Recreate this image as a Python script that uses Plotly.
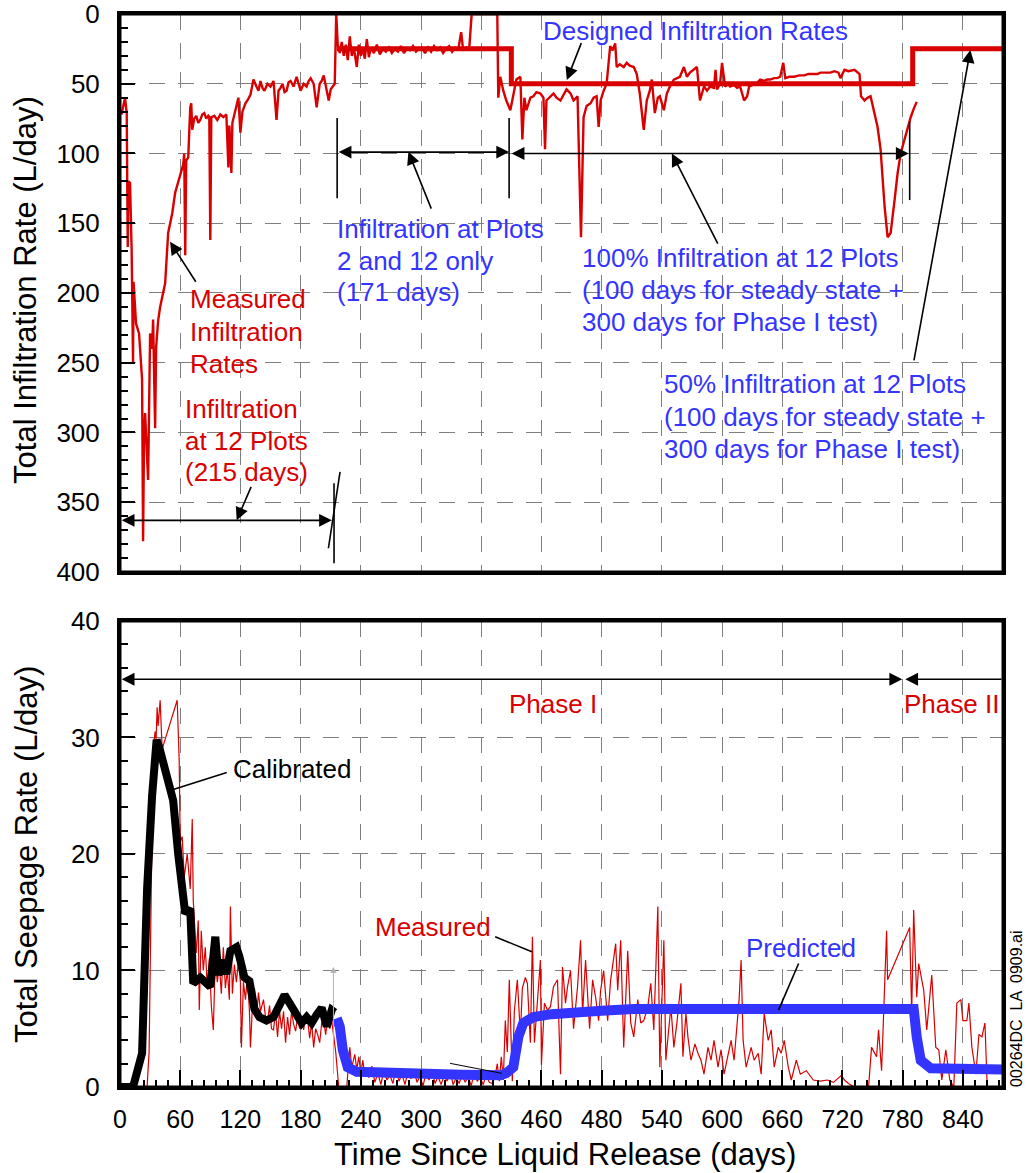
import plotly.graph_objects as go

# ---------------- Top panel: total infiltration rate (L/day) ----------------
infil_days = [
    1.5, 3, 5, 6.7, 7.7, 8.5, 10, 11.6, 13, 13.5,
    16, 19, 22, 23, 24, 25, 28, 30, 32, 33,
    35, 36, 38, 40, 43, 45, 48, 52, 55, 60,
    63, 64, 65, 66, 68, 70, 71, 72, 74, 76,
    78, 80, 82, 84, 86, 88, 89, 90, 91, 94,
    97, 100, 103, 106, 108, 109, 111, 112, 115, 118,
    120, 122, 125, 127, 130, 133, 136, 138, 140, 142,
    144, 147, 150, 153, 156, 158, 160, 162, 164, 166,
    168, 170, 173, 176, 178, 180, 183, 186, 188, 190,
    193, 196, 199, 201, 203, 205, 208, 210, 212, 214,
    215.5, 217, 219, 221, 223, 225, 227, 229, 231, 233,
    236, 238, 240, 242, 244, 246, 248, 250, 253, 256,
    259, 262, 265, 268, 271, 274, 277, 280, 283, 286,
    289, 292, 295, 298, 301, 304, 307, 310, 313, 316,
    319, 322, 325, 328, 331, 334, 337, 340, 342, 345,
    348, 350.5, 376,
    377, 379, 382, 385, 389, 392, 395, 399, 401, 403,
    405, 409, 412, 415, 419, 422, 423.6, 425, 429, 432,
    435, 439, 442, 445, 449, 452, 456, 459.4, 462, 465,
    469, 472, 475, 477, 479, 482, 485, 488.5, 491, 493.5,
    495, 498, 502, 505, 508, 512, 515, 518, 522, 525,
    528, 530, 533, 536, 538, 542, 545, 548, 552, 555,
    558, 562, 565, 568, 572, 575, 578, 582, 585, 588,
    592, 593.5, 595, 598, 600, 603, 606, 608, 612, 615,
    618, 622, 625, 627, 630, 634, 638, 642, 645, 648,
    652, 655, 658, 661, 663, 667, 672, 677, 682, 686,
    690, 695, 698, 703, 708, 712, 716, 718, 722, 726,
    732, 737, 738.5, 742, 745, 748, 752, 755, 758, 762,
    765, 768, 772, 775, 778, 781, 784, 788, 791, 794,
]
infil_meas = [
    72, 66, 60, 71, 167, 120, 121, 169, 250, 192,
    222, 229, 262, 378, 300, 286, 334, 229, 240, 219,
    297, 239, 220, 210, 198, 193, 157, 143, 128, 116,
    108, 100, 173, 105, 103, 67, 64, 83, 75, 73,
    78, 76, 72, 71, 75, 73, 74, 162, 74, 73,
    76, 72, 74, 72, 110, 80, 114, 78, 70, 60,
    85, 70, 64, 62, 58, 47, 52, 55, 48, 53,
    55, 50, 52, 48, 76, 55, 53, 50, 56, 55,
    49, 48, 52, 45, 50, 55, 50, 52, 48, 46,
    50, 67, 50, 48, 44, 52, 62, 54, 52, 50,
    0, 22, 28, 20, 30, 22, 33, 16, 30, 24,
    38, 22, 30, 25, 32, 18, 31, 24, 28, 22,
    29, 25, 27, 24, 28, 25, 27, 23, 28, 25,
    26, 23, 27, 25, 24, 28, 24, 27, 23, 26,
    24, 28, 25, 23, 27, 24, 26, 13, 26, 24,
    25, 0, 0,
    60, 45, 55, 62, 69, 58, 47, 45, 90, 60,
    69, 60, 59, 56, 57, 60, 97, 62, 59, 57,
    60, 62, 58, 54, 57, 62, 59, 160, 74, 66,
    64, 60, 59, 81, 62, 55, 50, 23, 26, 21,
    38, 36, 38, 35, 37, 38, 43, 57, 83, 62,
    55, 47, 71, 60, 59, 69, 57, 52, 47, 46,
    45, 38, 45, 42, 40, 38, 62, 52, 55, 52,
    53, 40, 54, 50, 35, 52, 50, 52, 51, 53,
    52, 62, 59, 52, 51, 50, 47, 48, 47, 47,
    46, 46, 45, 35, 46, 45, 45, 44, 44, 43,
    43, 43, 42, 42, 42, 41, 42, 46, 40, 41,
    40, 43, 59, 62, 60, 59, 71, 81, 97, 138,
    160, 157, 133, 114, 100, 92, 86, 74, 68, 63,
]

# Designed infiltration schedule (step changes)
design_days = [216, 390, 790, 880]
design_rate = [25, 50, 25, 25]

# ---------------- Bottom panel: total seepage rate (L/day) ----------------
seep_days = [
    0, 27, 29, 31, 33, 35, 36, 37, 38, 40,
    42, 57, 59, 60, 62, 64, 67, 70, 72, 73,
    75, 76, 78, 79, 81, 83, 85, 87, 89, 91,
    93, 95, 97, 99, 101, 103, 105, 107, 109, 110,
    112, 114, 116, 118, 120, 121, 123, 125, 127, 129,
    130, 132, 134, 136, 138, 140, 143, 145, 147, 149,
    151, 153, 155, 157, 159, 161, 163, 165, 167, 169,
    171, 173, 175, 177, 179, 181, 183, 185, 187, 189,
    191, 193, 195, 197, 199, 201, 203, 205, 207, 209,
    211, 213, 215, 218, 226, 229, 231, 234, 236, 238,
    240, 242, 244, 246, 248, 251, 254, 257, 260, 263,
    266, 269, 272, 275, 278, 281, 284, 287, 290, 293,
    296, 299, 302, 305, 308, 311, 314, 317, 320, 323,
    326, 329, 332, 335, 338, 341, 344, 347, 350, 353,
    356, 359, 362, 365, 368, 371, 374, 376, 378, 380,
    382, 384, 386, 388, 390, 391, 393, 396, 399, 401,
    404, 406, 409, 411, 413, 416, 419, 420, 423, 426,
    429, 432, 436, 439, 441, 444, 446, 449, 452, 456,
    459, 461, 464, 468, 471, 474, 477, 479, 482, 486,
    489, 494, 496, 499, 502, 506, 509, 512, 516, 519,
    522, 526, 529, 532, 536, 538, 542, 544, 546, 549,
    552, 555, 559, 561, 564, 566, 569, 573, 576, 579,
    582, 586, 589, 592, 596, 599, 602, 606, 609, 612,
    617, 619, 621, 624, 629, 632, 636, 639, 642, 646,
    649, 652, 656, 659, 662, 666, 669, 674, 678, 684,
    691, 698, 705, 711, 719, 722, 726, 732, 746, 749,
    754, 756, 759, 764, 765, 787, 789, 791, 794, 796,
    799, 801, 804, 809, 813, 816, 819, 823, 827, 831,
    834, 838, 840, 844, 846, 849, 853, 856, 859, 862,
    864,
]
seep_meas = [
    0, 0, 3, 18, 29, 30.5, 29.8, 32.6, 31, 33.2,
    29, 33.2, 28, 21, 21.5, 18, 20, 17, 23, 16,
    13, 11.5, 14.3, 6.6, 13.4, 10, 12, 8.5, 11, 7,
    4.9, 11, 9, 10.5, 8, 12, 8.5, 10, 7.5, 15.5,
    8, 10.5, 9, 10.8, 9, 3.4, 9, 7.5, 9.5, 6.5,
    3.4, 7, 8.5, 6, 8.1, 6.5, 7.5, 6, 5.5, 7,
    5, 4.9, 6.5, 4.3, 6.5, 5, 6.5, 3.8, 6, 4.5,
    6.5, 5.4, 4.8, 6, 5, 5.8, 4.9, 6, 5.8, 4.2,
    5.5, 3.4, 5, 4.5, 3.8, 5.5, 5.7, 4.5, 6, 5,
    5.7, 4.5, 3, 0, 0, 3.4, 1.7, 2.8, 1.5, 2.6,
    1.2, 2.3, 0.9, 1.5, 0.8, 1.8, 0.4, 1.2, 0.2, 1.5,
    0.6, 1.0, 0.3, 1.6, 0.5, 1.1, 0.2, 1.3, 0.7, 1.5,
    0.4, 0.9, 0.1, 1.2, 0.6, 1.4, 0.3, 0.9, 0.2, 1.0,
    0.5, 1.3, 0.2, 0.8, 0.3, 1.1, 0.4, 0.9, 0.1, 1.2,
    0.5, 0.8, 0.2, 1.1, 0.4, 0.3, 1.0, 2.0, 0.5, 2.6,
    0.6, 5.7, 3.0, 9.2, 4.0, 0.5, 6.5, 9.2, 4.5, 8.5,
    9.4, 8.9, 3.8, 12.9, 3.8, 7.7, 10.9, 1.9, 7.2, 6.6,
    6.9, 8.6, 9.2, 1.1, 10.3, 7.2, 8.6, 10, 5, 8.6,
    12.6, 6.3, 10.9, 5, 9.2, 7.7, 5.7, 8.3, 10, 5.7,
    9.2, 12.3, 8.3, 12.6, 3.4, 11.7, 5.5, 4.3, 7.5, 5.5,
    5.7, 6.9, 8.9, 4.9, 15.5, 1.7, 12.6, 2.3, 4.3, 6.9,
    3.4, 5.5, 8.9, 2.6, 6.3, 4.3, 2.3, 3.7, 2.9, 2.3,
    1.1, 3.4, 2.3, 4.0, 1.7, 3.2, 1.1, 2.6, 4.0, 2.3,
    7.5, 10.9, 4.0, 1.7, 3.4, 2.3, 2.9, 1.1, 6.3, 4.0,
    4.9, 1.7, 3.4, 2.9, 4.0, 1.7, 0.6, 2.3, 1.1, 1.4,
    0.6, 0.5, 0.6, 0.4, 1.0, 0.6, 0.3, 0, 0, 3.4,
    2.6, 4.9, 1.4, 13.4, 9.2, 13.7, 6.3, 15.2, 7.7, 10.6,
    9.1, 8.3, 4.9, 9.6, 3.4, 3.2, 0.6, 3.2, 0.6, 0,
    7.2, 7.5, 5.7, 5.7, 7.2, 3.4, 1.1, 4.5, 4.3, 5.5,
    0.6,
]

calib_days = [0, 13, 22, 27, 32, 36.5, 39, 43, 48, 53,
              58, 62, 65, 70, 73, 80, 90, 95, 98, 101,
              106, 110, 116, 119, 124, 129, 134, 139, 146, 153,
              159, 164, 169, 176, 181, 186, 191, 196, 201, 206,
              211, 214]
calib_rate = [0, 0, 2.9, 17, 25, 29.8, 29.2, 28, 26.5, 24.6,
              20, 16.5, 14.9, 15.3, 8.9, 9.4, 8.6, 12.9, 9.6, 10.9,
              9.7, 11.7, 12, 11.2, 9.4, 9.1, 6.7, 6, 5.7, 6,
              7, 7.9, 7.2, 6.3, 5.5, 6, 5.5, 6.2, 6.8, 5.2,
              6.6, 6.4]

pred_days = [216, 219, 222, 227, 236, 260, 300, 340, 379, 385,
             392, 397, 402, 412, 430, 445, 480, 512, 600, 700,
             778, 791, 794, 798, 808, 840, 880]
pred_rate = [5.9, 5.2, 3.2, 1.7, 1.3, 1.2, 1.1, 1.05, 1.0, 1.2,
             1.7, 4.3, 5.5, 6.0, 6.25, 6.4, 6.55, 6.7, 6.75, 6.8,
             6.9, 6.7, 4.3, 2.3, 1.6, 1.5, 1.5]

x_tick_vals = [0, 60, 120, 180, 240, 300, 360, 420, 480, 540, 600, 660, 720, 780, 840]
x_tick_text = ["0", "60", "120", "180", "240", "300", "360", "460", "480",
               "540", "600", "660", "720", "780", "840"]

RED = "#d80000"
BLUE = "#3434ff"
GRID = "#7f7f7f"
FONT = "Liberation Sans, Arial, sans-serif"

fig = go.Figure()

fig.add_trace(go.Scatter(x=infil_days, y=infil_meas, mode="lines",
                         line=dict(color=RED, width=2.4), xaxis="x", yaxis="y"))
fig.add_trace(go.Scatter(x=design_days, y=design_rate, mode="lines",
                         line=dict(color=RED, width=5, shape="hv"), xaxis="x", yaxis="y"))

fig.add_trace(go.Scatter(x=seep_days, y=seep_meas, mode="lines",
                         line=dict(color=RED, width=1.2), xaxis="x2", yaxis="y2"))
fig.add_trace(go.Scatter(x=pred_days, y=pred_rate, mode="lines",
                         line=dict(color=BLUE, width=10), xaxis="x2", yaxis="y2"))
fig.add_trace(go.Scatter(x=calib_days, y=calib_rate, mode="lines",
                         line=dict(color="black", width=8), xaxis="x2", yaxis="y2"))

annotations = []
shapes = []


def label(text, x, y, color, xref="x", yref="y", xanchor="left", size=26):
    annotations.append(dict(text=text, x=x, y=y, xref=xref, yref=yref, showarrow=False,
                            xanchor=xanchor, yanchor="middle",
                            font=dict(family=FONT, size=size, color=color)))


def arrow(x0, y0, x1, y1, xref="x", yref="y", both=False, color="black", width=1.6, size=1.6):
    annotations.append(dict(text="", x=x1, y=y1, ax=x0, ay=y0, xref=xref, yref=yref,
                            axref=xref, ayref=yref, showarrow=True,
                            arrowhead=2, arrowsize=size, arrowwidth=width, arrowcolor=color,
                            arrowside="end+start" if both else "end",
                            startarrowhead=2, startarrowsize=size, standoff=0, startstandoff=0))


def seg(x0, y0, x1, y1, xref="x", yref="y", width=1.6, color="black"):
    shapes.append(dict(type="line", x0=x0, y0=y0, x1=x1, y1=y1, xref=xref, yref=yref,
                       line=dict(color=color, width=width)))


# --- top panel labels and arrows ---
label("Designed Infiltration Rates", 574, 12.2, BLUE, xanchor="center")
arrow(460.3, 19.8, 445.3, 47.3)

for txt, yv in [("Measured", 204.4), ("Infiltration", 228.1), ("Rates", 251.1)]:
    label(txt, 67.8, yv, RED)
arrow(76.5, 193, 49.9, 163.3)

for txt, yv in [("Infiltration", 283.4), ("at 12 Plots", 306.3), ("(215 days)", 328.6)]:
    label(txt, 62.8, yv, RED)
arrow(131.3, 337.9, 116.3, 363)
arrow(212.7, 363, 1.7, 363, both=True)
seg(213.3, 336.4, 213.3, 393.8)
seg(207.7, 383, 219.3, 328.3)

for txt, yv in [("Infiltration at Plots", 154.2), ("2 and 12 only", 177.2), ("(171 days)", 199.4)]:
    label(txt, 214.4, yv, BLUE)
arrow(310.8, 140.6, 287.4, 98.8)
arrow(216.4, 99, 387.8, 99, both=True)
seg(216.4, 74.6, 216.4, 132)
seg(387.8, 74.6, 387.8, 132)

for txt, yv in [("100% Infiltration at 12 Plots", 174.7),
                ("(100 days for steady state +", 198.0),
                ("300 days for Phase I test)", 221.0)]:
    label(txt, 458.6, yv, BLUE)
arrow(596.5, 165.7, 550, 100)
arrow(388.8, 100, 786, 100, both=True)
seg(787, 77, 787, 133.4)

for txt, yv in [("50% Infiltration at 12 Plots", 265.4),
                ("(100 days for steady state +", 289.1),
                ("300 days for Phase I test)", 312.1)]:
    label(txt, 540.4, yv, BLUE)
arrow(791, 249.4, 847.5, 25.8)

# --- bottom panel labels and arrows ---
arrow(781, 35, 1.7, 35, xref="x2", yref="y2", both=True)
arrow(880, 35, 782.6, 35, xref="x2", yref="y2")
label("Phase I", 431.7, 32.85, RED, xref="x2", yref="y2", xanchor="center")
label("Phase II", 829, 32.85, RED, xref="x2", yref="y2", xanchor="center")

label("Calibrated", 171.5, 27.3, "black", xref="x2", yref="y2", xanchor="center")
seg(106.4, 27.0, 51.5, 25.5, xref="x2", yref="y2")

label("Measured", 312, 13.76, RED, xref="x2", yref="y2", xanchor="center")
seg(373.9, 12.9, 410.5, 11.6, xref="x2", yref="y2")

label("Predicted", 679, 11.92, BLUE, xref="x2", yref="y2", xanchor="center")
seg(676.3, 10.6, 656.3, 6.6, xref="x2", yref="y2")

seg(329, 2.03, 380.6, 1.17, xref="x2", yref="y2", width=1)
arrow(212.7, 1.0, 212.7, 10.3, xref="x2", yref="y2", color="#b4b4b4", width=1, size=1.2)

# Heavy frames drawn over the data so zero-valued readings sit under the border
for xr, yr in [("x domain", "y domain"), ("x2 domain", "y2 domain")]:
    shapes.append(dict(type="rect", x0=0, x1=1, y0=0, y1=1, xref=xr, yref=yr,
                       layer="above", line=dict(color="black", width=3),
                       fillcolor="rgba(0,0,0,0)"))

# --- axis titles and file tag ---
annotations.append(dict(text="Total Infiltration Rate (L/day)", x=-0.1065, y=0.7428,
                        xref="paper", yref="paper", showarrow=False, textangle=-90,
                        xanchor="center", yanchor="middle",
                        font=dict(family=FONT, size=31, color="black")))
annotations.append(dict(text="Total Seepage Rate (L/day)", x=-0.1065, y=0.2171,
                        xref="paper", yref="paper", showarrow=False, textangle=-90,
                        xanchor="center", yanchor="middle",
                        font=dict(family=FONT, size=31, color="black")))
annotations.append(dict(text="Time Since Liquid Release (days)", x=0.5034, y=-0.0625,
                        xref="paper", yref="paper", showarrow=False,
                        xanchor="center", yanchor="middle",
                        font=dict(family=FONT, size=31, color="black")))
annotations.append(dict(text="00264DC \u00a0LA \u00a00909.ai", x=1.0147, y=0.0736,
                        xref="paper", yref="paper", showarrow=False, textangle=-90,
                        xanchor="center", yanchor="middle",
                        font=dict(family=FONT, size=16, color="black")))

common_axis = dict(showline=True, linecolor="black", linewidth=3, mirror=True,
                   zeroline=False, showgrid=True, gridcolor=GRID, gridwidth=1.2,
                   griddash="16px,13px", tickcolor="black", automargin=False,
                   ticklabeloverflow="allow")

fig.update_layout(
    width=1027, height=1173,
    margin=dict(l=120, r=24, t=14, b=86, autoexpand=False),
    paper_bgcolor="white", plot_bgcolor="white",
    showlegend=False,
    font=dict(family=FONT, color="black"),
    xaxis=dict(domain=[0, 1], anchor="y", range=[0, 880], tick0=0, dtick=60,
               showticklabels=False, ticks="", **common_axis),
    yaxis=dict(domain=[0.48, 1], anchor="x", range=[400, 0], tick0=0, dtick=50,
               ticks="inside", ticklen=15, tickwidth=2, ticklabelstandoff=12,
               tickfont=dict(size=26),
               minor=dict(dtick=10, tick0=0, ticks="inside", ticklen=8, tickwidth=1.5,
                          tickcolor="black", showgrid=False),
               **common_axis),
    xaxis2=dict(domain=[0, 1], anchor="y2", range=[0, 880], tickmode="array",
                tickvals=x_tick_vals, ticktext=x_tick_text,
                ticks="inside", ticklen=17, tickwidth=2, ticklabelstandoff=8,
                tickfont=dict(size=25),
                minor=dict(tickmode="linear", tick0=0, dtick=12, ticks="inside", ticklen=7,
                           tickwidth=1.5, tickcolor="black", showgrid=False),
                **common_axis),
    yaxis2=dict(domain=[0, 0.4343], anchor="x2", range=[0, 40], tick0=0, dtick=10,
                ticks="inside", ticklen=15, tickwidth=2, ticklabelstandoff=12,
                tickfont=dict(size=26),
                minor=dict(dtick=2, tick0=0, ticks="inside", ticklen=8, tickwidth=1.5,
                           tickcolor="black", showgrid=False),
                **common_axis),
    annotations=annotations,
    shapes=shapes,
)

fig.write_html("out.html")
